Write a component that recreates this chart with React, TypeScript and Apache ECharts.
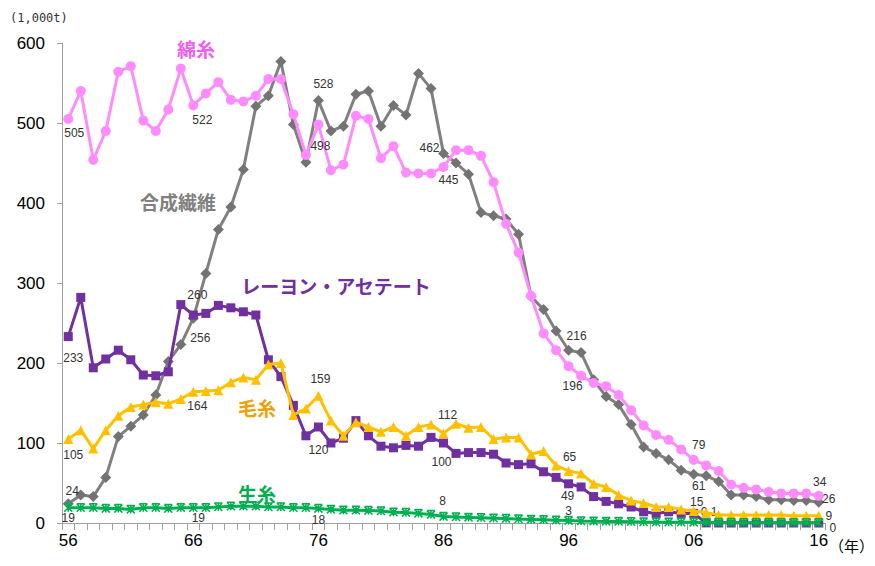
import React, { useEffect, useRef } from 'react';
import * as echarts from 'echarts';

const years = ['56','57','58','59','60','61','62','63','64','65','66','67','68','69','70','71','72','73','74','75','76','77','78','79','80','81','82','83','84','85','86','87','88','89','90','91','92','93','94','95','96','97','98','99','00','01','02','03','04','05','06','07','08','09','10','11','12','13','14','15','16'];

// 綿糸 (cotton yarn)
const cotton = [505, 540, 454, 490, 564, 571, 503, 490, 517, 568,
  522, 537, 551, 529, 527, 534, 555, 555, 511, 460,
  498, 441, 448, 509, 505, 456, 471, 438, 437, 437,
  445, 466, 466, 459, 426, 374, 338, 284, 237, 216,
  196, 184, 175, 171, 160, 141, 122, 110, 104, 92,
  79, 72, 65, 48, 44, 42, 39, 37, 37, 37,
  34];

// 合成繊維 (synthetic fibre yarn)
const synthetic = [24, 35, 33, 57, 108, 121, 135, 160, 202, 223,
  256, 312, 367, 395, 442, 521, 534, 577, 498, 451,
  528, 490, 496, 536, 540, 496, 522, 510, 562, 543,
  462, 450, 436, 388, 384, 380, 361, 283, 267, 240,
  216, 213, 179, 158, 148, 123, 95, 87, 79, 66,
  61, 59, 52, 35, 35, 33, 29, 29, 28, 28,
  26];

// レーヨン・アセテート (rayon / acetate)
const rayon = [233, 282, 194, 205, 216, 204, 185, 184, 189, 273,
  260, 262, 272, 269, 264, 260, 204, 183, 147, 109,
  120, 100, 106, 128, 109, 96, 94, 97, 96, 107,
  100, 87, 88, 88, 86, 75, 73, 74, 64, 57,
  49, 45, 33, 27, 24, 20, 14, 12, 14, 12,
  12, 0.1, 0, 0, 0, 0, 0, 0, 0, 0,
  0];

// 毛糸 (wool yarn)
const wool = [105, 116, 93, 116, 134, 145, 148, 151, 149, 155,
  164, 165, 166, 176, 182, 179, 198, 200, 135, 143,
  159, 128, 109, 126, 120, 114, 120, 109, 120, 123,
  112, 124, 119, 120, 105, 107, 107, 86, 90, 72,
  65, 62, 49, 45, 35, 28, 25, 20, 20, 17,
  15, 13, 10, 10, 10, 10, 10, 10, 9, 9,
  9];

// 生糸 (raw silk)
const silk = [19, 19, 19, 18, 18, 17, 19, 19, 18, 19,
  19, 19, 20, 21, 21, 21, 20, 20, 19, 19,
  18, 17, 16, 16, 15.5, 15, 13.5, 13, 12, 10.5,
  8, 7.5, 7, 6.5, 6, 5.5, 5, 4.5, 4, 3.5,
  3, 2.5, 2.3, 2, 1.8, 1.5, 1.2, 1, 1, 0.9,
  0.8, 0.6, 0.5, 0.5, 0.4, 0.4, 0.3, 0.3, 0.3, 0.3,
  0.3];

const yTicks = [0, 100, 200, 300, 400, 500, 600];

// label placement: [index, dx, dy]
const cottonLabels = [[0, 6, 14], [10, 9, 15], [20, 2, 21], [30, 5, 13], [40, 4, 20], [50, 5, -15], [60, 1, -14]];
const synthLabels = [[0, 4, -13], [10, 7, 20], [20, 5, -17], [30, -14, -5], [40, 8, -14], [50, 5, 12], [60, 10, -3]];
const rayonLabels = [[0, 5, 21], [10, 4, -20], [20, 0, 23], [30, -2, 19], [40, -1, 12], [51, 3, -11], [60, 14, 5]];
const woolLabels = [[0, 5, 16], [10, 4, 14], [20, 2, -17], [30, 4, -18], [40, 1, -14], [50, 3, -9], [60, 10, 0]];
const silkLabels = [[0, 0, 10], [10, 5, 10], [20, 0, 11], [30, -1, -16], [40, 0, -10]];

function withLabels(values: number[], labels: number[][]) {
  return values.map((v, i) => {
    const l = labels.find((x) => x[0] === i);
    if (!l) return v;
    return { value: v, label: { show: true, position: 'inside', offset: [l[1], l[2]] } };
  });
}

const labelStyle = { show: false, fontSize: 12, color: '#333', fontFamily: 'Liberation Sans' };

export default function App() {
  const ref = useRef<HTMLDivElement>(null);
  useEffect(() => {
    if (!ref.current) return;
    const chart = echarts.init(ref.current, undefined, { renderer: 'svg' });
    const jp = '"Noto Sans CJK JP", sans-serif';
    chart.setOption({
      animation: false,
      backgroundColor: '#fff',
      grid: { left: 62, right: 50, top: 43, bottom: 43 },
      xAxis: {
        type: 'category',
        data: years,
        boundaryGap: true,
        axisLine: { lineStyle: { color: '#a0a0a0', width: 1 } },
        axisTick: { show: true, interval: 0, length: 7, lineStyle: { color: '#a0a0a0' } },
        axisLabel: { interval: 9, fontSize: 17, color: '#000', margin: 9, fontFamily: 'Liberation Sans' },
        splitLine: { show: false },
      },
      yAxis: {
        type: 'value',
        min: yTicks[0],
        max: yTicks[yTicks.length - 1],
        interval: 100,
        axisLine: { show: true, lineStyle: { color: '#a0a0a0', width: 1 } },
        axisTick: { show: true, length: 5, lineStyle: { color: '#a0a0a0' } },
        axisLabel: { fontSize: 17, color: '#000', margin: 17, fontFamily: 'Liberation Sans' },
        splitLine: { show: false },
      },
      graphic: [
        { type: 'text', x: 10, y: 18, style: { text: '(1,000t)', font: '12px "DejaVu Sans Mono"', fill: '#333', align: 'left', verticalAlign: 'middle' } },
        { type: 'text', x: 829, y: 545, style: { text: '（年）', font: '15px ' + jp, fill: '#000', align: 'left', verticalAlign: 'middle' } },
        { type: 'text', x: 196, y: 48, style: { text: '綿糸', font: 'bold 19px ' + jp, fill: '#f060f0', align: 'center', verticalAlign: 'middle' } },
        { type: 'text', x: 178, y: 201, style: { text: '合成繊維', font: 'bold 19px ' + jp, fill: '#808080', align: 'center', verticalAlign: 'middle' } },
        { type: 'text', x: 336, y: 285, style: { text: 'レーヨン・アセテート', font: 'bold 19px ' + jp, fill: '#7030a0', align: 'center', verticalAlign: 'middle' } },
        { type: 'text', x: 257, y: 407, style: { text: '毛糸', font: 'bold 19px ' + jp, fill: '#f0a000', align: 'center', verticalAlign: 'middle' } },
        { type: 'text', x: 257, y: 493, style: { text: '生糸', font: 'bold 19px ' + jp, fill: '#00b050', align: 'center', verticalAlign: 'middle' } },
      ],
      series: [
        {
          name: '合成繊維', type: 'line', data: withLabels(synthetic, synthLabels),
          symbol: 'diamond', symbolSize: 11, showAllSymbol: true,
          lineStyle: { color: '#808080', width: 3 }, itemStyle: { color: '#737373' },
          label: labelStyle, z: 2,
        },
        {
          name: '綿糸', type: 'line', data: withLabels(cotton, cottonLabels),
          symbol: 'circle', symbolSize: 10, showAllSymbol: true,
          lineStyle: { color: '#ff8cff', width: 3 }, itemStyle: { color: '#ff8cff' },
          label: labelStyle, z: 3,
        },
        {
          name: 'レーヨン・アセテート', type: 'line', data: withLabels(rayon, rayonLabels),
          symbol: 'rect', symbolSize: 9, showAllSymbol: true,
          lineStyle: { color: '#7030a0', width: 3 }, itemStyle: { color: '#7030a0' },
          label: labelStyle, z: 4,
        },
        {
          name: '毛糸', type: 'line', data: withLabels(wool, woolLabels),
          symbol: 'triangle', symbolSize: 10, showAllSymbol: true,
          lineStyle: { color: '#ffc000', width: 3 }, itemStyle: { color: '#ffc000' },
          label: labelStyle, z: 5,
        },
        {
          name: '生糸', type: 'line', data: withLabels(silk, silkLabels),
          symbol: 'path://M0,0L10,10M10,0L0,10M5,0L5,10M0,0L10,0', symbolSize: 8, showAllSymbol: true,
          lineStyle: { color: '#00b050', width: 3 }, itemStyle: { color: '#00b050', borderColor: '#00b050', borderWidth: 1.5 },
          label: labelStyle, z: 6,
        },
      ],
    });
    return () => chart.dispose();
  }, []);
  return <div ref={ref} style={{ position: 'absolute', left: 0, top: 0, width: 875, height: 566 }} />;
}
